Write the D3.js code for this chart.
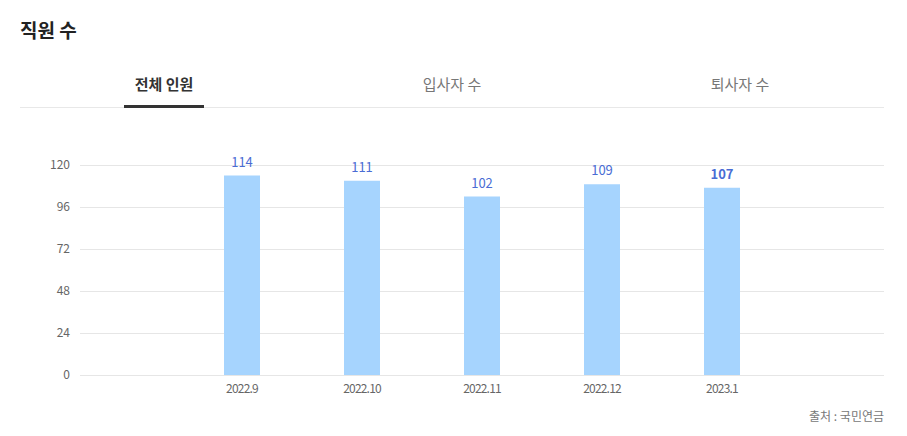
<!DOCTYPE html>
<html><head><meta charset="utf-8">
<script src="https://cdn.jsdelivr.net/npm/d3@7"></script>
<style>
html,body{margin:0;padding:0;background:#fff;}
svg{display:block;font-family:"Noto Sans CJK KR","Noto Sans",sans-serif;}
</style></head><body>
<svg id="c" width="907" height="436"></svg>
<script>
const title = "직원 수";
const tabs = ["전체 인원", "입사자 수", "퇴사자 수"];
const categories = ["2022.9", "2022.10", "2022.11", "2022.12", "2023.1"];
const values = [114, 111, 102, 109, 107];
const yTicks = [0, 24, 48, 72, 96, 120];
const source = "출처 : 국민연금";

const svg = d3.select("#c");
const font = '"Noto Sans CJK KR","Noto Sans",sans-serif';

svg.append("text").attr("x", 20).attr("y", 38).attr("font-size", 19).attr("font-weight", 700)
  .attr("fill", "#222").text(title);

const tabX = d3.scaleBand().domain(tabs).range([20, 884]);
svg.append("line").attr("x1", 20).attr("x2", 884).attr("y1", 107.5).attr("y2", 107.5)
  .attr("stroke", "#e8e8e8").attr("stroke-width", 1);
tabs.forEach((t, i) => {
  const cx = tabX(t) + tabX.bandwidth() / 2;
  svg.append("text").attr("x", cx).attr("y", 90).attr("text-anchor", "middle")
    .attr("font-size", 15).attr("font-weight", i === 0 ? 700 : 400)
    .attr("fill", i === 0 ? "#333" : "#777").text(t);
  if (i === 0) {
    svg.append("rect").attr("x", cx - 40).attr("y", 105).attr("width", 80).attr("height", 3).attr("fill", "#333");
  }
});

const y = d3.scaleLinear().domain([0, 120]).range([375, 165]);
const x = d3.scaleBand().domain(categories).range([182, 782]).paddingInner(0.7).paddingOuter(0.35);

const grid = svg.append("g");
grid.selectAll("line").data(yTicks).join("line")
  .attr("x1", 80).attr("x2", 884)
  .attr("y1", d => Math.round(y(d)) + 0.5).attr("y2", d => Math.round(y(d)) + 0.5)
  .attr("stroke", "#e6e6e6");

const yAxis = svg.append("g").attr("transform", "translate(80,0)")
  .call(d3.axisLeft(y).tickValues(yTicks).tickSize(0).tickPadding(10));
yAxis.select(".domain").remove();
yAxis.selectAll("text").attr("font-size", 12).attr("fill", "#666").attr("font-family", font);

svg.append("g").selectAll("rect").data(values).join("rect")
  .attr("x", (d, i) => x(categories[i]))
  .attr("width", x.bandwidth())
  .attr("y", d => y(d))
  .attr("height", d => y(0) - y(d))
  .attr("fill", "#a6d4fe");

svg.append("g").selectAll("text").data(values).join("text")
  .attr("x", (d, i) => x(categories[i]) + x.bandwidth() / 2)
  .attr("y", d => y(d) - 9)
  .attr("text-anchor", "middle")
  .attr("font-size", 13)
  .attr("font-weight", (d, i) => i === values.length - 1 ? 700 : 400)
  .attr("fill", "#4a6cd4")
  .text(d => d);

const xAxis = svg.append("g").attr("transform", "translate(0,375)")
  .call(d3.axisBottom(x).tickSize(0).tickPadding(9));
xAxis.select(".domain").remove();
xAxis.selectAll("text").attr("font-size", 12).attr("fill", "#666").attr("font-family", font)
  .attr("letter-spacing", "-0.8px");

svg.append("text").attr("x", 884).attr("y", 421).attr("text-anchor", "end")
  .attr("font-size", 12).attr("fill", "#777").text(source);
</script>
</body></html>
